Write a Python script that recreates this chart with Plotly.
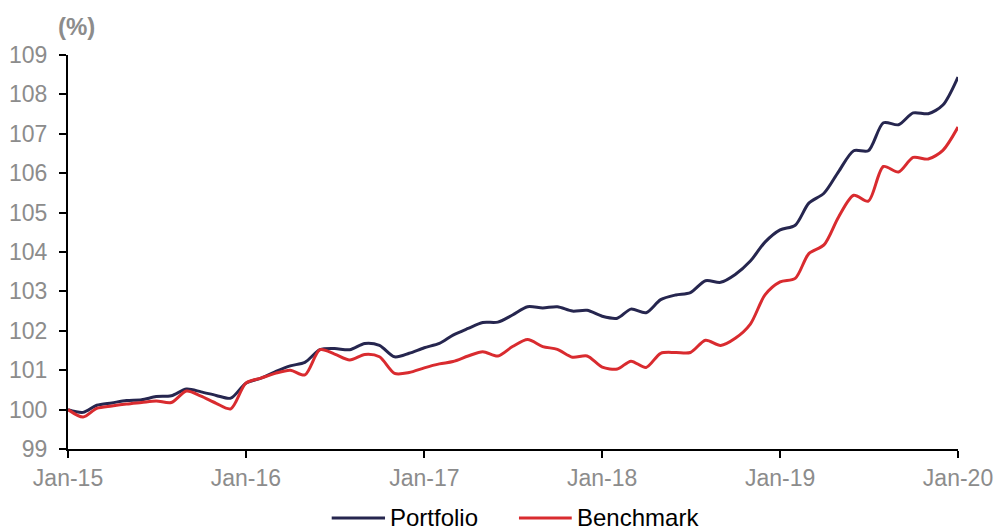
import pandas as pd
import plotly.graph_objects as go

months = pd.date_range("2015-01-01", "2020-01-01", freq="MS")

portfolio = [
    100.00, 99.93, 100.11, 100.17, 100.23, 100.25, 100.33, 100.35, 100.52, 100.45, 100.36, 100.29,
    100.67, 100.80, 100.96, 101.11, 101.20, 101.52, 101.55, 101.52, 101.68, 101.63, 101.34, 101.43,
    101.57, 101.68, 101.89, 102.06, 102.21, 102.22, 102.40, 102.61, 102.58, 102.61, 102.50, 102.52,
    102.37, 102.32, 102.55, 102.46, 102.79, 102.91, 102.97, 103.27, 103.23, 103.43, 103.77, 104.25,
    104.56, 104.68, 105.24, 105.49, 106.04, 106.57, 106.57, 107.28, 107.23, 107.53, 107.51, 107.73,
    108.44,
]
benchmark = [
    100.00, 99.81, 100.03, 100.09, 100.14, 100.18, 100.22, 100.18, 100.47, 100.34, 100.16, 100.02,
    100.67, 100.80, 100.92, 101.00, 100.88, 101.52, 101.41, 101.26, 101.40, 101.34, 100.92, 100.94,
    101.06, 101.16, 101.22, 101.36, 101.47, 101.36, 101.60, 101.78, 101.60, 101.53, 101.33, 101.36,
    101.08, 101.03, 101.23, 101.07, 101.43, 101.45, 101.45, 101.76, 101.63, 101.81, 102.17, 102.91,
    103.24, 103.33, 103.96, 104.18, 104.89, 105.44, 105.29, 106.17, 106.03, 106.40, 106.36, 106.58,
    107.17,
]
series_names = ["Portfolio", "Benchmark"]

NAVY = "#26264f"
RED = "#d92b2f"
GREY = "#8c8c8c"
FONT = "Liberation Sans, Arial, sans-serif"

fig = go.Figure()
for name, vals, col in [(series_names[0], portfolio, NAVY), (series_names[1], benchmark, RED)]:
    fig.add_trace(go.Scatter(x=months, y=vals, name=name, mode="lines",
                             line=dict(color=col, width=3, shape="spline", smoothing=0.8),
                             cliponaxis=False, showlegend=False))

# custom legend (longer line keys as in the original)
leg_y = -0.175
shapes = []
annotations = []
for (x0, x1, tx), name, col in zip([(0.2963, 0.3562, 0.3600), (0.5067, 0.5660, 0.5700)],
                                    series_names, [NAVY, RED]):
    shapes.append(dict(type="line", xref="paper", yref="paper", x0=x0, x1=x1, y0=leg_y, y1=leg_y,
                       line=dict(color=col, width=3)))
    annotations.append(dict(text=name, x=tx, y=leg_y, xref="paper", yref="paper",
                            xanchor="left", yanchor="middle", showarrow=False,
                            font=dict(family=FONT, size=24, color="black")))
annotations.append(dict(text="<b>(%)</b>", x=0.0096, y=1.0718, xref="paper", yref="paper",
                        xanchor="center", yanchor="middle", showarrow=False,
                        font=dict(family=FONT, size=24, color=GREY)))

fig.update_layout(
    template="none",
    width=997, height=527,
    margin=dict(l=68, r=39, t=55, b=78),
    paper_bgcolor="white", plot_bgcolor="white",
    font=dict(family=FONT, size=23, color="black"),
    showlegend=False,
    shapes=shapes,
    annotations=annotations,
)
fig.update_xaxes(
    type="date", range=["2015-01-01", "2020-01-01"],
    tickformat="%b-%y", dtick="M12", tick0="2015-01-01",
    showline=True, linecolor="black", linewidth=2,
    ticks="outside", ticklen=7, tickwidth=2, tickcolor="black",
    showgrid=False, zeroline=False, automargin=False,
    tickfont=dict(family=FONT, size=23, color=GREY),
)
fig.update_yaxes(
    range=[99, 109], dtick=1, tick0=99,
    showline=True, linecolor="black", linewidth=2,
    ticks="outside", ticklen=7, tickwidth=2, tickcolor="black",
    showgrid=False, zeroline=False, automargin=False,
    tickfont=dict(family=FONT, size=23, color=GREY),
    ticklabelstandoff=7,
)

# remove the default 8px page margin so the 997x527 figure fills the window exactly
fig.write_html(
    "out.html",
    config={"displayModeBar": False},
    post_script="document.body.style.margin='0px';document.body.style.overflow='hidden';",
)
